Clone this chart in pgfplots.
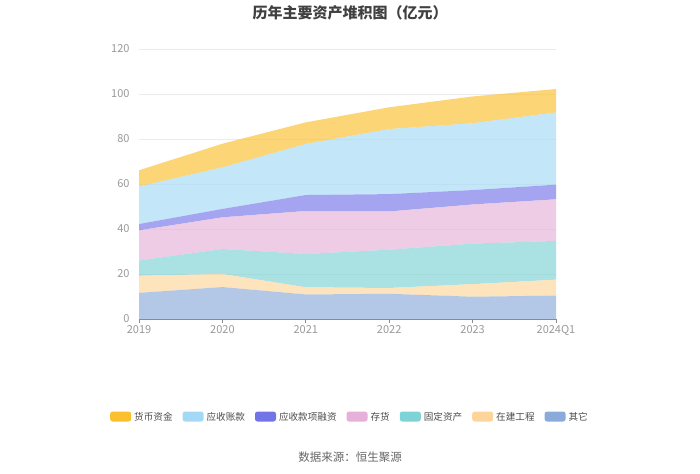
\documentclass[border=0pt]{standalone}
\usepackage{pgfplots}
\pgfplotsset{compat=1.18}
\usepackage{fontspec}
\setmainfont{Noto Sans CJK SC}
\usetikzlibrary{calc}

\definecolor{cHuobi}{HTML}{FBC02D}
\definecolor{cYingshou}{HTML}{A3D9F5}
\definecolor{cRongzi}{HTML}{7373E8}
\definecolor{cCunhuo}{HTML}{E6B1D8}
\definecolor{cGuding}{HTML}{7DD3D5}
\definecolor{cZaijian}{HTML}{FDD59A}
\definecolor{cQita}{HTML}{8AAAD9}
\definecolor{tickgray}{HTML}{999999}

\begin{document}
\begin{tikzpicture}[x=1pt,y=1pt]
  % canvas 700 x 473
  \path (0,0) rectangle (700,473);

  \node[font=\fontsize{15}{17}\selectfont\bfseries, text=black!75] at (350,460) {历年主要资产堆积图（亿元）};
  \node[font=\fontsize{11.5}{14}\selectfont, text=black!60] at (350,16) {数据来源：恒生聚源};

  \begin{axis}[
    at={(139pt,154pt)}, anchor=south west,
    scale only axis,
    width=417pt, height=270pt,
    xmin=0, xmax=5, ymin=0, ymax=120,
    stack plots=y,
    xtick={0,1,2,3,4,5},
    xticklabels={2019,2020,2021,2022,2023,2024Q1},
    ytick={0,20,40,60,80,100,120},
    ymajorgrids=true,
    grid style={draw=black!8, line width=0.6pt},
    axis y line*=left,
    axis x line*=bottom,
    y axis line style={draw=none},
    x axis line style={draw=black!45, line width=0.8pt},
    major y tick style={draw=none},
    major x tick style={draw=black!45, line width=0.8pt},
    tick align=outside,
    major tick length=4pt,
    ticklabel style={font=\fontsize{11}{13}\selectfont, text=tickgray},
    /pgf/number format/assume math mode=true,
    yticklabel style={xshift=-2pt},
    xticklabel style={yshift=1pt},
    reverse legend,
    legend columns=7,
    legend style={
      at={(0.506,-0.363)}, anchor=center,
      draw=none, fill=none,
      font=\fontsize{9.6}{12}\selectfont,
      text=black!70,
      /tikz/every odd column/.append style={column sep=1pt},
      /tikz/every even column/.append style={column sep=8pt},
    },
    legend image code/.code={
      \fill[rounded corners=2.5pt, fill opacity=1] (0pt,-4.5pt) rectangle (21pt,5.5pt);
    },
    every axis plot/.append style={draw=none, fill opacity=0.65, line width=0pt},
  ]
    % 其它
    \addplot[fill=cQita] coordinates {(0,11.6) (1,14.2) (2,10.9) (3,11.2) (4,9.9) (5,10.4)} \closedcycle;
    % 在建工程
    \addplot[fill=cZaijian] coordinates {(0,7.6) (1,5.8) (2,3.2) (3,2.6) (4,5.6) (5,7.1)} \closedcycle;
    % 固定资产
    \addplot[fill=cGuding] coordinates {(0,6.8) (1,11.1) (2,14.8) (3,17.0) (4,18.0) (5,17.2)} \closedcycle;
    % 存货
    \addplot[fill=cCunhuo] coordinates {(0,13.4) (1,14.1) (2,19.1) (3,17.0) (4,17.4) (5,18.5)} \closedcycle;
    % 应收款项融资
    \addplot[fill=cRongzi] coordinates {(0,2.8) (1,3.7) (2,7.1) (3,7.7) (4,6.4) (5,6.5)} \closedcycle;
    % 应收账款
    \addplot[fill=cYingshou] coordinates {(0,16.7) (1,18.5) (2,22.7) (3,28.9) (4,29.7) (5,32.1)} \closedcycle;
    % 货币资金
    \addplot[fill=cHuobi] coordinates {(0,7.2) (1,10.5) (2,9.6) (3,9.7) (4,11.9) (5,10.4)} \closedcycle;
    \legend{其它,在建工程,固定资产,存货,应收款项融资,应收账款,货币资金}
  \end{axis}
\end{tikzpicture}
\end{document}
